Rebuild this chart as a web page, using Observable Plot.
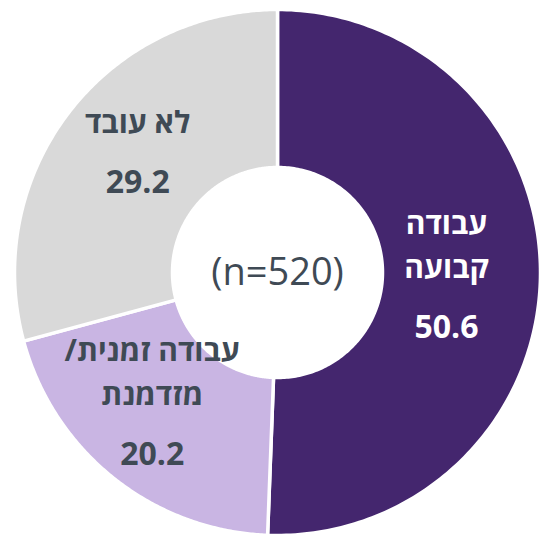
<!DOCTYPE html>
<html><head><meta charset="utf-8">
<script src="https://cdn.jsdelivr.net/npm/d3@7"></script>
<script src="https://cdn.jsdelivr.net/npm/@observablehq/plot@0.6"></script>
<style>
html,body{margin:0;padding:0;background:#fff;}
svg text{direction:rtl;}
</style></head><body><div id="chart"></div>
<script>
// ---- data ----
const categories = ["עבודה קבועה", "עבודה זמנית/ מזדמנת", "לא עובד"];
const labelLines = [["עבודה", "קבועה"], ["עבודה זמנית/", "מזדמנת"], ["לא עובד"]];
const values = [50.6, 20.2, 29.2];
const valueLabels = ["50.6", "20.2", "29.2"];
const centerLabel = "(n=520)";

// ---- layout / style ----
const W = 539, H = 542, CX = 277, CY = 272, R_OUT = 263, R_IN = 105;
const colors = ["#44266E", "#C9B5E3", "#D9D9D9"];
const textColors = ["#FFFFFF", "#3F4A55", "#3F4A55"];
const labelRadius = [169, 181, 184];
const labelAngleShift = [0, 5.3, 3.1];
const lineStep = 44.5, valueGap = 59;
const FONT = "'Open Sans', 'Liberation Sans', 'DejaVu Sans', sans-serif";

// ---- geometry from data ----
const total = d3.sum(values);
const slices = [];
let cum = 0;
values.forEach((v, i) => {
  const a0 = cum / total * 2 * Math.PI;
  cum += v;
  const a1 = cum / total * 2 * Math.PI;
  slices.push({i, a0, a1, mid: (a0 + a1) / 2});
});
const ringPts = [];
const N = 180;
for (const s of slices) {
  for (let k = 0; k <= N; k++) {
    const a = s.a0 + (s.a1 - s.a0) * k / N;
    ringPts.push({cat: categories[s.i], x: R_OUT * Math.sin(a), y: R_OUT * Math.cos(a)});
  }
  for (let k = N; k >= 0; k--) {
    const a = s.a0 + (s.a1 - s.a0) * k / N;
    ringPts.push({cat: categories[s.i], x: R_IN * Math.sin(a), y: R_IN * Math.cos(a)});
  }
}
const nameRows = [], valueRows = [];
for (const s of slices) {
  const ang = s.mid + labelAngleShift[s.i] * Math.PI / 180;
  const ax = labelRadius[s.i] * Math.sin(ang), ay = labelRadius[s.i] * Math.cos(ang);
  const lines = labelLines[s.i];
  const hb = (lines.length - 1) * lineStep + valueGap;
  lines.forEach((t, k) => nameRows.push({i: s.i, x: ax, y: ay + hb / 2 - k * lineStep, t}));
  valueRows.push({i: s.i, x: ax, y: ay - hb / 2, t: valueLabels[s.i]});
}

const chart = Plot.plot({
  width: W, height: H,
  margin: 0,
  style: {fontFamily: FONT, background: "#fff"},
  x: {domain: [-CX, W - CX], axis: null},
  y: {domain: [-(H - CY), CY], axis: null},
  color: {domain: categories, range: colors},
  marks: [
    Plot.line(ringPts, {x: "x", y: "y", z: "cat", fill: "cat", stroke: "white", strokeWidth: 3.5, curve: "linear-closed"}),
    Plot.text(nameRows.filter(d => d.i === 0), {x: "x", y: "y", text: "t", fill: textColors[0], fontSize: 30, fontWeight: "bold"}),
    Plot.text(nameRows.filter(d => d.i !== 0), {x: "x", y: "y", text: "t", fill: textColors[1], fontSize: 30, fontWeight: "bold"}),
    Plot.text(valueRows.filter(d => d.i === 0), {x: "x", y: "y", text: "t", fill: textColors[0], fontSize: 32, fontWeight: "bold"}),
    Plot.text(valueRows.filter(d => d.i !== 0), {x: "x", y: "y", text: "t", fill: textColors[1], fontSize: 32, fontWeight: "bold"}),
    Plot.text([{x: 0, y: 0, t: centerLabel}], {x: "x", y: "y", text: "t", fill: "#3F4A55", fontSize: 38})
  ]
});
document.getElementById("chart").appendChild(chart);
</script></body></html>
